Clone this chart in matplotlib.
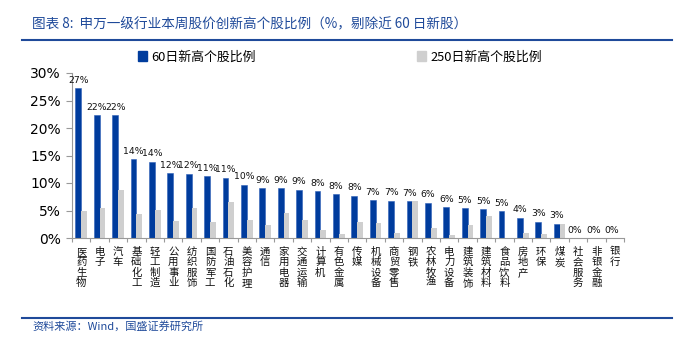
import numpy as np
import matplotlib.pyplot as plt
from matplotlib.lines import Line2D
from matplotlib.patches import Patch

plt.rcParams['font.family'] = ['Noto Sans CJK SC', 'DejaVu Sans']

industries = ['医药生物', '电子', '汽车', '基础化工', '轻工制造', '公用事业', '纺织服饰',
              '国防军工', '石油石化', '美容护理', '通信', '家用电器', '交通运输', '计算机',
              '有色金属', '传媒', '机械设备', '商贸零售', '钢铁', '农林牧渔', '电力设备',
              '建筑装饰', '建筑材料', '食品饮料', '房地产', '环保', '煤炭', '社会服务',
              '非银金融', '银行']
high60 = [27.3, 22.4, 22.3, 14.4, 13.9, 11.8, 11.7, 11.2, 11.0, 9.7, 9.1, 9.1, 8.8, 8.5,
          8.0, 7.7, 6.9, 6.8, 6.7, 6.45, 5.6, 5.4, 5.2, 4.9, 3.7, 3.0, 2.6, 0, 0, 0]
high250 = [4.9, 5.5, 8.7, 4.3, 5.05, 3.1, 5.4, 3.0, 6.6, 3.2, 2.3, 4.5, 3.2, 1.5,
           0.7, 3.0, 2.8, 0.9, 6.7, 1.8, 0.5, 2.4, 4.0, 0, 0.85, 0.7, 2.6, 0, 0, 0]
yticks = [0, 5, 10, 15, 20, 25, 30]

blue = '#003C9D'
gray = '#CFCFCF'
navy = '#1F4A9A'

fig = plt.figure(figsize=(6.8, 3.46), dpi=100)
ax = fig.add_axes([72/680, 1-238/346, 552/680, 165/346])

N = len(industries)
ind = np.arange(N)
width = 0.31
b1 = ax.bar(ind - width/2, high60, width, color=blue, edgecolor='#2E5FB8', linewidth=0.4)
b2 = ax.bar(ind + width/2, high250, width, color=gray)

for x, v in zip(ind, high60):
    ax.text(x - width/2, v + 0.6, '%d%%' % round(v), ha='center', va='bottom',
            fontsize=6.7, family=['DejaVu Sans'], color='#111111')

ax.set_xlim(-0.5, N - 0.5)
ax.set_ylim(0, 30)
ax.set_yticks(yticks)
ax.set_yticklabels(['%d%%' % t for t in yticks], fontsize=10, family=['DejaVu Sans'])
ax.set_xticks(np.arange(N + 1) - 0.5)
ax.set_xticklabels([])
ax.tick_params(axis='x', length=3, color='#999999')
ax.tick_params(axis='y', length=4, color='#999999', pad=4)
for s in ['top', 'right']:
    ax.spines[s].set_visible(False)
for s in ['left', 'bottom']:
    ax.spines[s].set_color('#999999')
    ax.spines[s].set_linewidth(0.8)

for x, name in zip(ind, industries):
    ax.text(x, -1.6, '\n'.join(name), ha='center', va='top', fontsize=7.5,
            linespacing=1.05, color='#111111')

# legend
handles = [Patch(color=blue), Patch(color=gray)]
fig.legend(handles, ['60日新高个股比例', '250日新高个股比例'], ncol=2,
           loc='center', bbox_to_anchor=(0.5, 1-57/346), frameon=False,
           fontsize=9.3, handlelength=0.7, handleheight=0.7, handletextpad=0.3,
           columnspacing=12.5)

# title and source
fig.text(32/680, 1-24/346, '图表 8:  申万一级行业本周股价创新高个股比例（%，剔除近 60 日新股）',
         fontsize=9.8, color=navy, va='center', ha='left')
fig.add_artist(Line2D([22/680, 672/680], [1-40/346, 1-40/346], color=navy, lw=1.5))
fig.add_artist(Line2D([22/680, 672/680], [1-318/346, 1-318/346], color=navy, lw=1.5))
fig.text(32/680, 1-326/346, '资料来源：Wind，国盛证券研究所', fontsize=8, color=navy,
         va='center', ha='left')

fig.savefig('out.png', dpi=100)
